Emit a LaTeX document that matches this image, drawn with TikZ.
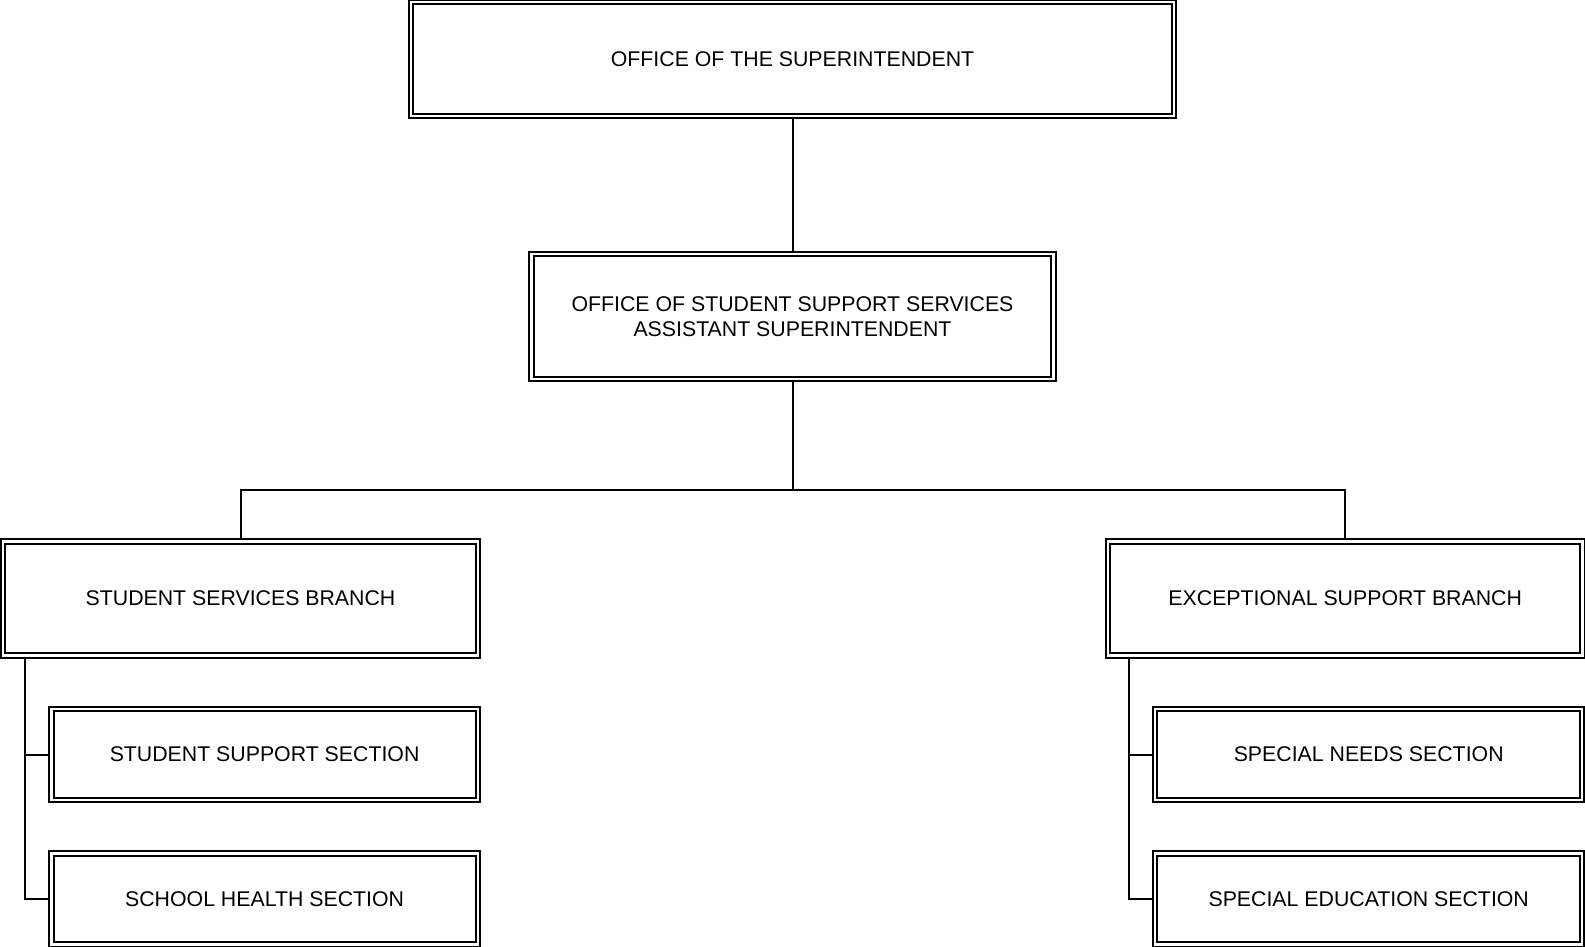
\documentclass[tikz,border=0pt]{standalone}
\usepackage{fontspec}
\setmainfont{Liberation Sans}
\begin{document}
\tikzset{
  orgbox/.style={draw, double, line width=1pt, double distance=1.25pt, inner sep=0pt,
    outer sep=1.6pt, align=center, font=\fontsize{10.65}{12.65}\selectfont},
  link/.style={line width=1pt}
}
\begin{tikzpicture}[x=0.5pt, y=-0.5pt]
\useasboundingbox (0,0) rectangle (1585,947);
\node[orgbox, minimum width=381.5pt, minimum height=57pt] (top) at (792.5,59) {OFFICE OF THE SUPERINTENDENT};
\node[orgbox, minimum width=261pt, minimum height=62.4pt] (mid) at (792.5,316.4) {OFFICE OF STUDENT SUPPORT SERVICES\\ASSISTANT SUPERINTENDENT};
\node[orgbox, minimum width=237.3pt, minimum height=57.2pt] (lb) at (240.5,598.5) {STUDENT SERVICES BRANCH};
\node[orgbox, minimum width=237.3pt, minimum height=57.2pt] (rb) at (1345.2,598.5) {EXCEPTIONAL SUPPORT BRANCH};
\node[orgbox, minimum width=213.2pt, minimum height=45.6pt] (s1) at (264.6,754.6) {STUDENT SUPPORT SECTION};
\node[orgbox, minimum width=213.2pt, minimum height=45.4pt] (s2) at (264.6,898.9) {SCHOOL HEALTH SECTION};
\node[orgbox, minimum width=213.5pt, minimum height=45.6pt] (s3) at (1368.7,754.6) {SPECIAL NEEDS SECTION};
\node[orgbox, minimum width=213.5pt, minimum height=45.4pt] (s4) at (1368.7,898.9) {SPECIAL EDUCATION SECTION};
\coordinate (j) at (792.5,490);
\coordinate (lx) at (25,0);
\coordinate (rx) at (1129,0);
\draw[link] (top.south) -- (mid.north);
\draw[link] (mid.south) -- (j);
\draw[link] (lb.north) |- (j) -| (rb.north);
\draw[link] (lb.south -| lx) |- (s2.west);
\draw[link] (s1.west -| lx) -- (s1.west);
\draw[link] (rb.south -| rx) |- (s4.west);
\draw[link] (s3.west -| rx) -- (s3.west);
\end{tikzpicture}
\end{document}
